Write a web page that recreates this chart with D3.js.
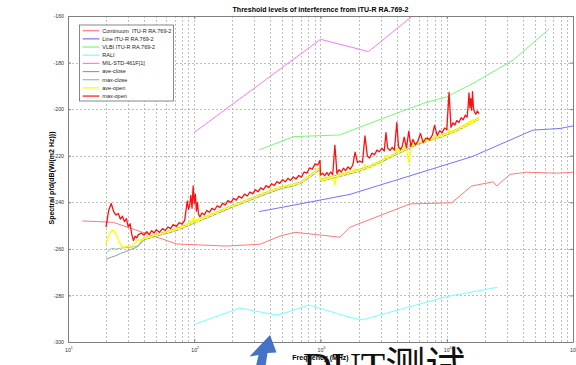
<!DOCTYPE html>
<html>
<head>
<meta charset="utf-8">
<script src="https://cdn.jsdelivr.net/npm/d3@7"></script>
<style>
  html, body { margin: 0; padding: 0; background: #fff; }
  svg { display: block; }
  text { font-family: "Liberation Sans", Arial, sans-serif; }
</style>
</head>
<body>
<svg id="chart" width="576" height="365"></svg>
<script>
// ---- Threshold levels (frequency in MHz, spectral pfd in dB(W/(m2 Hz))) ----
const continuum = [[13,-248.0],[22.8,-248.6],[72.6,-257.9],[180,-258.8],[332,-258.0],[478,-254.5],[628,-252.9],[933,-253.9],[1426,-255.0],[1713,-250.7],[5120,-240.7],[10940,-240.2],[15770,-233.0],[23400,-231.2],[24900,-233.0],[31700,-228.0],[43000,-227.1],[74300,-227.5],[100000,-227.1]];
const lineRA = [[327,-244.0],[689,-240.7],[1713,-236.6],[15850,-220.4],[48200,-209.0],[78900,-208.3],[100000,-207.2]];
const vlbi = [[327,-217.5],[611,-211.8],[1413,-211.1],[3140,-203.9],[6520,-197.5],[10000,-194.7],[16200,-188.9],[33650,-178.9],[64600,-165.6]];
const rali = [[101,-292.4],[230,-285.4],[444,-288.4],[505,-287.8],[811,-284.1],[1713,-289.4],[2134,-290.5],[10000,-280.5],[25300,-276.5]];
const milStd = [[100,-210.0],[1000,-170.0],[2400,-175.3],[10000,-148.0]];

// ---- Measured spectra, open configuration (shared frequency grid, MHz) ----
const measFreq = [
  20,21,22,23,24,25,26,27,28,29,
  30,31,32,33,34,35,36,38,40,42,
  44,46,48,50,53,56,59,62,65,68,
  72,76,80,84,88,90,92,94,96,98,
  100,102,104,106,108,111,115,120,126,132,
  138,145,152,160,168,176,185,195,205,215,
  226,238,250,263,276,290,305,320,336,353,
  371,390,410,430,452,475,500,525,552,580,
  610,640,672,706,742,780,820,860,905,950,
  990,1000,1040,1080,1120,1160,1200,1250,1300,1350,
  1400,1460,1520,1580,1650,1720,1800,1880,1960,2050,
  2150,2250,2350,2450,2560,2680,2800,2930,3060,3200,
  3300,3400,3550,3700,3850,4020,4150,4300,4450,4600,
  4800,5000,5200,5400,5650,5900,6200,6500,6800,7000,
  7300,7700,8000,8400,8800,9200,9600,10000,10430,10800,
  11200,11600,12000,12500,13000,13500,14000,14500,14800,15000,
  15250,15500,15750,16000,16250,16500,17000,17500,18000
];
const maxOpen = [
  -250.7,-243.5,-240.5,-244.0,-245.5,-244.8,-247.2,-246.0,-248.3,-247.0,
  -250.5,-249.2,-253.8,-256.4,-254.6,-255.3,-254.0,-253.2,-254.1,-252.6,
  -253.8,-252.2,-253.2,-251.8,-252.9,-251.3,-252.1,-250.6,-251.3,-249.6,
  -250.4,-248.7,-249.4,-247.8,-239.5,-243.0,-241.5,-237.0,-242.5,-233.0,
  -240.5,-236.5,-243.8,-240.0,-245.0,-246.3,-244.6,-245.4,-243.5,-244.3,
  -242.6,-243.3,-241.5,-242.2,-240.4,-241.2,-239.3,-240.1,-238.3,-239.1,
  -237.4,-238.2,-236.5,-237.3,-235.6,-236.4,-234.6,-235.5,-233.8,-234.6,
  -232.8,-233.7,-232.0,-232.8,-231.1,-231.9,-230.3,-231.2,-229.7,-230.6,
  -229.1,-230.0,-228.5,-229.2,-227.0,-227.5,-225.2,-225.8,-223.5,-224.0,
  -222.0,-228.3,-227.5,-228.6,-227.2,-228.4,-227.0,-228.1,-215.5,-227.7,
  -226.0,-227.0,-225.4,-226.4,-224.8,-225.8,-224.1,-218.5,-222.9,-222.3,
  -222.9,-211.5,-220.2,-221.0,-218.9,-219.6,-217.6,-218.3,-216.8,-218.0,
  -210.1,-216.6,-217.8,-216.4,-217.6,-205.8,-216.2,-217.4,-215.8,-212.0,
  -216.6,-209.5,-216.0,-213.0,-215.4,-213.7,-210.5,-214.4,-212.6,-212.4,
  -213.1,-211.1,-207.0,-211.3,-209.3,-210.1,-208.1,-208.9,-192.8,-207.8,
  -205.9,-206.8,-204.9,-205.7,-203.7,-204.6,-202.6,-203.4,-198.0,-193.0,
  -199.5,-195.5,-200.5,-192.5,-199.0,-200.9,-202.2,-200.8,-201.9
];
const aveOpen = [
  -257.9,-254.5,-252.3,-252.0,-253.8,-255.9,-258.0,-259.1,-259.3,-258.8,
  -259.1,-258.6,-258.9,-258.3,-257.5,-256.8,-256.2,-256.3,-255.0,-255.7,
  -254.4,-255.0,-253.8,-254.5,-253.1,-253.7,-252.4,-253.0,-251.7,-252.4,
  -251.0,-251.7,-250.2,-250.7,-249.0,-249.9,-248.2,-248.0,-249.3,-246.5,
  -248.0,-247.2,-248.6,-247.3,-248.2,-246.9,-247.6,-246.1,-246.6,-245.1,
  -245.7,-244.2,-244.7,-243.1,-243.7,-242.2,-242.8,-241.2,-241.8,-240.3,
  -240.9,-239.4,-240.0,-238.5,-239.1,-237.6,-238.2,-236.7,-237.3,-235.8,
  -236.4,-234.9,-235.5,-234.1,-234.6,-233.1,-233.9,-232.6,-233.4,-232.1,
  -232.9,-231.6,-232.4,-230.9,-231.1,-229.0,-229.3,-227.3,-227.6,-225.5,
  -226.0,-230.4,-230.8,-229.4,-230.3,-229.0,-229.9,-228.5,-232.5,-228.1,
  -229.0,-227.5,-228.5,-227.0,-227.9,-226.5,-227.4,-225.5,-226.9,-225.6,
  -226.4,-223.8,-225.8,-224.2,-224.9,-223.1,-223.8,-222.1,-222.8,-221.0,
  -219.8,-221.5,-219.8,-220.5,-218.8,-217.0,-219.2,-217.6,-218.4,-216.0,
  -217.5,-223.0,-216.5,-214.5,-215.7,-214.2,-213.8,-214.6,-213.1,-214.1,
  -212.5,-213.3,-211.3,-212.6,-211.1,-211.9,-210.4,-211.2,-208.5,-210.6,
  -209.2,-210.0,-208.4,-209.0,-207.3,-208.1,-206.4,-207.2,-205.5,-205.4,
  -206.6,-205.0,-206.2,-204.6,-205.8,-204.4,-205.2,-203.6,-204.5
];

// ---- Measured spectra, closed configuration ----
const closeFreq = [20,22,24,26,28,30,32,34,36,40,45,50,60,70,80,100,120,150,200,250,300,400,500,600,700,800,990,1000,1200,1500,2000,2500,3000,4000,5000,6000,8000,10000,12000,14000,16000,18000];
const aveClose = [-264.5,-263.6,-262.9,-262.0,-261.4,-260.7,-260.1,-259.6,-258.9,-256.1,-255.3,-254.6,-253.4,-252.4,-251.3,-249.0,-247.2,-245.0,-242.1,-240.1,-238.4,-235.8,-234.0,-233.1,-231.9,-229.8,-226.0,-231.0,-229.9,-228.6,-226.8,-224.8,-222.9,-219.5,-217.0,-214.9,-212.9,-211.1,-209.4,-207.5,-205.9,-204.4];
const maxClose = [-261.9,-259.8,-260.1,-259.7,-259.5,-259.4,-259.2,-259.1,-258.5,-255.3,-254.4,-253.8,-252.6,-251.4,-250.4,-248.2,-246.4,-244.2,-241.2,-239.3,-237.6,-235.0,-233.2,-232.3,-231.2,-228.8,-225.2,-230.1,-229.0,-227.8,-225.9,-224.2,-222.2,-218.7,-216.1,-214.3,-212.1,-210.4,-208.6,-206.7,-205.1,-203.6];

// ---- Axis ticks and labels ----
const yTicks = [-300,-280,-260,-240,-220,-200,-180,-160];
const xDecades = [10,100,1000,10000,100000];
const titleText = "Threshold levels of interference from ITU-R RA.769-2";
const xLabel = "Frequency (MHz)";
const yLabel = "Spectral pfd(dB(W/(m2 Hz)))";

const W = 576, H = 365;
const plot = { left: 68, right: 573, top: 16, bottom: 342 };

const x = d3.scaleLog().domain([10, 1e5]).range([plot.left, plot.right]);
const y = d3.scaleLinear().domain([-300, -160]).range([plot.bottom, plot.top]);

const zipSeries = (freqs, vals) => freqs.map((f, i) => [f, vals[i]]).filter(d => d[1] !== undefined);

const series = [
  { name: "Continuum  ITU-R RA.769-2", color: "#ff7a7a", width: 1, pts: continuum },
  { name: "Line ITU-R RA.769-2",       color: "#7474ff", width: 1, pts: lineRA },
  { name: "VLBI ITU-R RA.769-2",       color: "#78f878", width: 1, pts: vlbi },
  { name: "RALI",                      color: "#78ffff", width: 1, pts: rali },
  { name: "MIL-STD-461F[1]",           color: "#ff78ff", width: 1, pts: milStd },
  { name: "ave-close",                 color: "#9a9a9a", width: 1, pts: zipSeries(closeFreq, aveClose) },
  { name: "max-close",                 color: "#8cc4b0", width: 1, pts: zipSeries(closeFreq, maxClose) },
  { name: "ave-open",                  color: "#ffff00", width: 1.4, pts: zipSeries(measFreq, aveOpen) },
  { name: "max-open",                  color: "#ff1010", width: 1.3, pts: zipSeries(measFreq, maxOpen) }
];

const svg = d3.select("#chart");
svg.append("rect").attr("width", W).attr("height", H).attr("fill", "#fff");

svg.append("defs").append("clipPath").attr("id", "plotClip")
  .append("rect")
  .attr("x", plot.left).attr("y", plot.top)
  .attr("width", plot.right - plot.left).attr("height", plot.bottom - plot.top);

// dashed grid: every log step on x, every major tick on y
const grid = svg.append("g")
  .attr("stroke", "#a4a4a4").attr("stroke-width", 0.7).attr("stroke-dasharray", "2,2");
grid.selectAll("line.vx").data(x.ticks().filter(t => t > 10 && t < 1e5)).join("line")
  .attr("x1", d => Math.round(x(d)) + 0.5).attr("x2", d => Math.round(x(d)) + 0.5)
  .attr("y1", plot.top).attr("y2", plot.bottom);
grid.selectAll("line.hy").data(yTicks.filter(t => t > -300 && t < -160)).join("line")
  .attr("x1", plot.left).attr("x2", plot.right)
  .attr("y1", d => Math.round(y(d)) + 0.5).attr("y2", d => Math.round(y(d)) + 0.5);

// data traces
const lineGen = d3.line().x(d => x(d[0])).y(d => y(d[1]));
svg.append("g").attr("clip-path", "url(#plotClip)")
  .selectAll("path").data(series).join("path")
  .attr("d", d => lineGen(d.pts))
  .attr("fill", "none")
  .attr("stroke", d => d.color)
  .attr("stroke-width", d => d.width)
  .attr("stroke-linejoin", "round");

// axes (ticks point inward, box all round)
const axisColor = "#808080";
function styleAxis(g) {
  g.selectAll("path.domain").attr("stroke", axisColor).attr("stroke-width", 1);
  g.selectAll(".tick line").attr("stroke", axisColor);
  g.selectAll(".tick text").attr("fill", "#333").attr("font-size", 5.2)
    .attr("font-family", "'Liberation Sans', Arial, sans-serif");
}
svg.append("g").attr("transform", `translate(${plot.left},0)`)
  .call(d3.axisLeft(y).tickValues(yTicks).tickSize(-3).tickSizeOuter(0).tickPadding(4).tickFormat(d => String(d)))
  .call(styleAxis);
svg.append("g").attr("transform", `translate(${plot.right},0)`)
  .call(d3.axisRight(y).tickValues(yTicks).tickSize(-3).tickSizeOuter(0).tickFormat(""))
  .call(styleAxis);
svg.append("g").attr("transform", `translate(0,${plot.bottom})`)
  .call(d3.axisBottom(x).tickValues(xDecades).tickSize(-3).tickSizeOuter(0).tickFormat(""))
  .call(styleAxis);
svg.append("g").attr("transform", `translate(0,${plot.top})`)
  .call(d3.axisTop(x).tickValues(xDecades).tickSize(-3).tickSizeOuter(0).tickFormat(""))
  .call(styleAxis);

// decade labels 10^n
const xl = svg.append("g").attr("fill", "#333");
xDecades.forEach(v => {
  const t = xl.append("text")
    .attr("x", x(v) - 3).attr("y", plot.bottom + 10)
    .attr("font-size", 5.2);
  t.append("tspan").text("10");
  t.append("tspan").attr("dy", -3.2).attr("font-size", 3.6).text(String(Math.round(Math.log10(v))));
});

// titles
svg.append("text").attr("x", (plot.left + plot.right) / 2).attr("y", 12)
  .attr("text-anchor", "middle").attr("font-size", 7).attr("font-weight", "bold")
  .attr("fill", "#000").text(titleText);
svg.append("text").attr("x", (plot.left + plot.right) / 2).attr("y", 359.5)
  .attr("text-anchor", "middle").attr("font-size", 7).attr("font-weight", "bold")
  .attr("fill", "#000").text(xLabel);
svg.append("text").attr("transform", "translate(53.5,178) rotate(-90)")
  .attr("text-anchor", "middle").attr("font-size", 7).attr("font-weight", "bold")
  .attr("fill", "#000").text(yLabel);

// legend
const leg = svg.append("g");
leg.append("rect").attr("x", 79.5).attr("y", 25).attr("width", 94).attr("height", 76)
  .attr("fill", "#fff").attr("stroke", "#6a6a6a").attr("stroke-width", 0.8);
const rows = leg.selectAll("g.row").data(series).join("g")
  .attr("transform", (d, i) => `translate(0,${30.7 + i * 8.17})`);
rows.append("line").attr("x1", 82.7).attr("x2", 99.3).attr("y1", 0).attr("y2", 0)
  .attr("stroke", d => d.color).attr("stroke-width", 1.2);
rows.append("text").attr("x", 102.3).attr("y", 0).attr("dy", "0.35em")
  .attr("font-size", 5.5).attr("fill", "#222").style("white-space", "pre")
  .text(d => d.name);

// callout arrow and caption over the bottom edge
svg.append("path")
  .attr("d", "M270,335 L276.5,352.5 L267.5,353 L265.5,366 L256,366 L258.5,355 L249.5,356.5 Z")
  .attr("fill", "#4472c4");
svg.append("text").attr("x", 303).attr("y", 380)
  .attr("font-size", 40).attr("fill", "#111")
  .style("font-family", "'Liberation Serif', 'Noto Sans CJK SC', serif")
  .text("DUT测试");
</script>
</body>
</html>
